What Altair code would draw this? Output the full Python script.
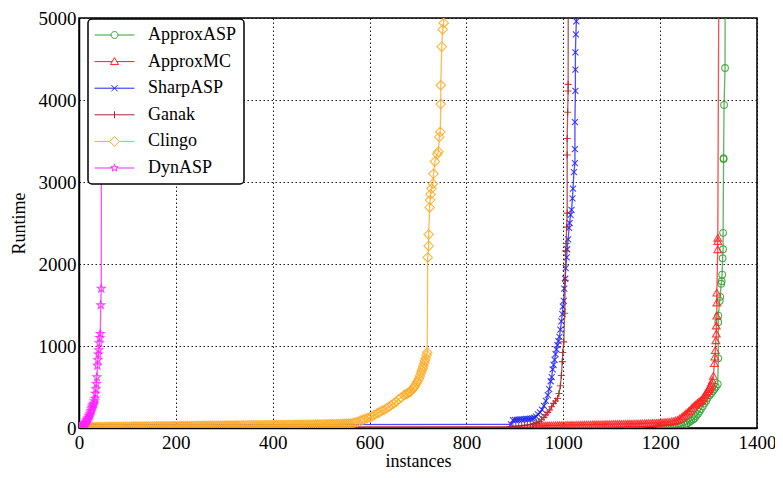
import altair as alt
import pandas as pd

series_names = ["ApproxASP", "ApproxMC", "SharpASP", "Ganak", "Clingo", "DynASP"]
series_colors = ["#33a033", "#ff2020", "#2020ff", "#a52a2a", "#ffaa22", "#ff22ff"]

# ---- data (instance index, runtime) ----
approxasp_x = [1195, 1200, 1205, 1210, 1215, 1220, 1225, 1230, 1235, 1240, 1245, 1250, 1254, 1257, 1261, 1264,
               1268, 1271, 1274, 1278, 1281, 1284, 1288, 1291, 1295, 1298, 1302, 1305, 1309, 1312, 1315, 1319,
               1320, 1320, 1320, 1323, 1324, 1326, 1327, 1328, 1329, 1330, 1330, 1331, 1331, 1332, 1334, 1335]
approxasp_y = [3, 4, 5, 6, 7, 9, 11, 13, 16, 20, 28, 38, 48, 60, 75, 90,
               105, 120, 145, 170, 200, 230, 265, 300, 330, 365, 400, 420, 450, 475, 500, 535,
               850, 1290, 1370, 1550, 1600, 1760, 1790, 1870, 2070, 2180, 2380, 3280, 3290, 3940, 4390, 8000]

approxmc_x = [0, 935,
              940, 944, 948, 952, 956, 960, 964, 968, 972, 976,
              980, 984, 988, 992, 996, 1000, 1004, 1008, 1012, 1016,
              1020, 1024, 1028, 1032, 1036, 1040, 1044, 1048, 1052, 1056,
              1060, 1064, 1068, 1072, 1076, 1080, 1084, 1088, 1092, 1096,
              1100, 1104, 1108, 1112, 1116, 1120, 1124, 1128, 1132, 1136,
              1140, 1144, 1148, 1152, 1156, 1160, 1164, 1168, 1172, 1176,
              1180, 1184, 1188, 1192, 1196, 1200, 1204, 1208, 1212, 1216,
              1220, 1224, 1228, 1232, 1236, 1240, 1244, 1247, 1250, 1253, 1256, 1259, 1262, 1265, 1268,
              1271, 1274, 1277, 1280, 1283, 1285, 1288, 1290, 1293, 1295, 1298, 1300, 1302, 1304, 1306,
              1308, 1310, 1312, 1313, 1314, 1315, 1316, 1316, 1317, 1317, 1317, 1319, 1319, 1319, 1323]
approxmc_y = [5, 12,
              25, 26, 27, 28, 29, 30, 30, 31, 31, 32,
              32, 33, 33, 34, 34, 35, 35, 36, 36, 37,
              37, 38, 38, 39, 39, 40, 40, 41, 41, 42,
              42, 43, 43, 44, 44, 45, 45, 46, 46, 47,
              47, 48, 48, 49, 49, 50, 50, 51, 51, 52,
              52, 53, 53, 54, 54, 55, 56, 57, 58, 59,
              60, 61, 62, 63, 64, 66, 68, 70, 72, 74,
              76, 80, 85, 92, 100, 115, 130, 145, 160, 175, 190, 205, 220, 240, 260,
              275, 290, 305, 320, 330, 340, 360, 380, 405, 430, 450, 475, 500, 520, 550,
              580, 635, 790, 870, 950, 1070, 1150, 1250, 1370, 1530, 1650, 2180, 2280, 2320, 8000]

sharpasp_x = [0, 892, 896, 900, 904, 908, 912, 916, 920, 924, 928, 932, 936, 940, 944, 948,
              952, 956, 960, 964, 968, 971, 974, 976, 978, 980, 982, 984, 986, 988, 990, 992,
              994, 996, 998, 999, 1001, 1002, 1004, 1005, 1007, 1008, 1010, 1012, 1013, 1015, 1017, 1019,
              1020, 1022, 1024, 1024, 1024, 1025, 1025, 1025, 1026, 1027, 1030]
sharpasp_y = [40, 45, 95, 98, 100, 102, 104, 106, 108, 110, 112, 115, 118, 125, 140, 165,
              190, 225, 270, 330, 400, 475, 570, 620, 715, 770, 830, 900, 960, 1010, 1060, 1110,
              1200, 1300, 1390, 1480, 1550, 1700, 1820, 1950, 2080, 2180, 2300, 2440, 2500, 2600, 2660, 2800,
              2920, 3120, 3230, 3400, 3730, 4110, 4370, 4580, 4800, 4960, 8000]

ganak_x = [0, 890, 896, 902, 908, 914, 920, 926, 932, 938, 944, 950, 955, 960, 964, 968,
           972, 976, 980, 984, 988, 991, 994, 996, 998, 999, 1001, 1003, 1004, 1005, 1006, 1007,
           1008, 1008, 1008, 1009, 1010, 1010, 1011]
ganak_y = [12, 16, 20, 22, 25, 28, 32, 36, 42, 50, 62, 80, 100, 130, 160, 190,
           220, 260, 300, 330, 360, 420, 515, 640, 810, 920, 1050, 1400, 1800, 2160, 2250, 2450,
           2620, 3330, 3530, 3850, 4110, 4190, 8000]

clingo_x = [0, 4, 8, 12, 16, 20, 24, 28, 32, 36, 40, 44, 48, 52, 56, 60, 64, 68, 72, 76,
            80, 84, 88, 92, 96, 100, 104, 108, 112, 116, 120, 124, 128, 132, 136, 140, 144, 148, 152, 156,
            160, 164, 168, 172, 176, 180, 184, 188, 192, 196, 200, 204, 208, 212, 216, 220, 224, 228, 232, 236,
            240, 244, 248, 252, 256, 260, 264, 268, 272, 276, 280, 284, 288, 292, 296, 300, 304, 308, 312, 316,
            320, 324, 328, 332, 336, 340, 344, 348, 352, 356, 360, 364, 368, 372, 376, 380, 384, 388, 392, 396,
            400, 404, 408, 412, 416, 420, 424, 428, 432, 436, 440, 444, 448, 452, 456, 460, 464, 468, 472, 476,
            480, 484, 488, 492, 496, 500, 504, 508, 512, 516, 520, 524, 528, 532, 536, 540, 544, 548, 552, 556,
            560, 565, 570, 575, 581, 586, 590, 595, 600, 605, 610, 616, 620, 625, 630, 635, 640, 645, 650, 655,
            660, 665, 671, 675, 678, 681, 684, 687, 690, 692, 694, 697, 699, 702, 704, 706, 708, 710, 711, 713,
            714, 716, 718, 719, 720, 722, 722, 724, 725, 726, 728, 731, 732, 735, 740, 742, 744, 746, 747, 747,
            749, 751, 753, 755]
clingo_y = [10, 10, 10, 10, 11, 11, 11, 11, 12, 12, 12, 12, 13, 13, 13, 13, 14, 14, 14, 14,
            15, 15, 15, 15, 16, 16, 16, 16, 17, 17, 17, 17, 18, 18, 18, 18, 19, 19, 19, 19,
            20, 20, 20, 20, 21, 21, 21, 21, 22, 22, 22, 22, 23, 23, 23, 23, 24, 24, 24, 24,
            25, 25, 25, 25, 26, 26, 26, 26, 27, 27, 27, 27, 28, 28, 28, 28, 29, 29, 29, 29,
            30, 30, 30, 30, 31, 31, 31, 31, 32, 32, 32, 32, 33, 33, 33, 33, 34, 34, 34, 34,
            35, 35, 35, 35, 36, 36, 36, 36, 37, 37, 37, 37, 38, 38, 38, 38, 39, 39, 39, 39,
            40, 40, 41, 41, 42, 42, 43, 43, 44, 44, 45, 45, 46, 47, 48, 49, 50, 51, 52, 53,
            55, 60, 66, 75, 90, 100, 110, 120, 130, 140, 160, 180, 190, 210, 220, 240, 260, 280, 300, 320,
            350, 370, 400, 410, 420, 430, 440, 460, 480, 500, 515, 545, 570, 600, 635, 670, 700, 730, 755, 790,
            820, 850, 890, 920, 2080, 2220, 2360, 2690, 2780, 2850, 2920, 2980, 3100, 3250, 3340, 3370, 3550,
            3610, 3950, 4180,
            4650, 4860, 4940, 8000]

dynasp_x = [1, 2, 3, 4, 5, 6, 7, 8, 9, 10, 11, 12, 13, 14, 15, 16, 17, 18, 19, 20,
            21, 22, 23, 24, 25, 26, 27, 28, 29, 30, 31, 32, 33, 34, 35, 36, 37, 38, 39, 40,
            41, 42, 43, 44, 45, 46, 47]
dynasp_y = [2, 4, 6, 9, 12, 15, 18, 22, 26, 30, 40, 50, 60, 70, 80, 90, 100, 110, 120, 130,
            145, 155, 170, 190, 210, 230, 250, 265, 280, 290, 300, 330, 360, 420, 475, 540, 620, 760, 830, 900,
            950, 1035, 1100, 1150, 1500, 1700, 8000]

x_ticks = [0, 200, 400, 600, 800, 1000, 1200, 1400]
y_ticks = [0, 1000, 2000, 3000, 4000, 5000]

series_data = [(approxasp_x, approxasp_y), (approxmc_x, approxmc_y), (sharpasp_x, sharpasp_y),
               (ganak_x, ganak_y), (clingo_x, clingo_y), (dynasp_x, dynasp_y)]
for sx, sy in series_data:
    assert len(sx) == len(sy), (len(sx), len(sy))

FONT = "Liberation Serif"

# marker shapes (unit paths) and sizes
STAR = ("M0,-1L0.235,-0.324L0.951,-0.309L0.380,0.124L0.588,0.809L0,0.4L-0.588,0.809"
        "L-0.380,0.124L-0.951,-0.309L-0.235,-0.324Z")
marker_shapes = ["circle", "triangle-up", "M-1,-1L1,1M-1,1L1,-1", "M-1,0L1,0M0,-1L0,1",
                 "M0,-1L1,0L0,1L-1,0Z", STAR]
marker_sizes = [45, 60, 36, 49, 90, 70]

# legend symbols: a short line with the marker in its middle
legend_paths = [
    "M-2.7,0L2,0M4,0L8.7,0M4,0A1,1,0,1,1,2,0A1,1,0,1,1,4,0Z",
    "M-2.7,0L2.35,0M3.65,0L8.7,0M3,-1.15L4.15,0.85L1.85,0.85Z",
    "M-2.7,0L8.7,0M2.1,-0.9L3.9,0.9M2.1,0.9L3.9,-0.9",
    "M-2.7,0L8.7,0M3,-1L3,1",
    "M-2.7,0L1.6,0M4.4,0L8.7,0M3,-1.4L4.4,0L3,1.4L1.6,0Z",
    "M-2.7,0L2.4,0M3.6,0L8.7,0M3,-1.1L3.259,-0.356L4.046,-0.34L3.418,0.136L3.647,0.89L3,0.44"
    "L2.353,0.89L2.582,0.136L1.954,-0.34L2.741,-0.356Z",
]


def color_scale():
    return alt.Scale(domain=series_names, range=series_colors)


x_enc = alt.X("instances:Q", scale=alt.Scale(domain=[0, 1400], nice=False),
              axis=alt.Axis(values=x_ticks, title="instances", format="d",
                            labelFont=FONT, titleFont=FONT, labelPadding=5, titlePadding=0))
y_enc = alt.Y("runtime:Q", scale=alt.Scale(domain=[0, 5000], nice=False),
              axis=alt.Axis(values=y_ticks, title="Runtime", format="d",
                            labelFont=FONT, titleFont=FONT, labelPadding=3, titlePadding=10))

layers = []
for name, (sx, sy), shp, sz in zip(series_names, series_data, marker_shapes, marker_sizes):
    df = pd.DataFrame({"instances": sx, "runtime": sy, "series": name})
    line = alt.Chart(df).mark_line(strokeWidth=1.3, opacity=0.8, clip=True).encode(
        x=x_enc, y=y_enc,
        stroke=alt.Stroke("series:N", scale=color_scale(), legend=None),
    )
    points = alt.Chart(df).mark_point(shape=shp, size=sz, filled=False,
                                      strokeWidth=1.1, opacity=0.85, clip=True).encode(
        x=x_enc, y=y_enc,
        stroke=alt.Stroke("series:N", scale=color_scale(), legend=None),
    )
    layers += [line, points]

legend_df = pd.DataFrame({"series": series_names})
legend_layer = alt.Chart(legend_df).mark_point(size=49, fill="white", strokeWidth=1, opacity=0).encode(
    stroke=alt.Stroke("series:N", scale=color_scale(), legend=alt.Legend(title=None)),
    shape=alt.Shape("series:N", scale=alt.Scale(domain=series_names, range=legend_paths),
                    legend=alt.Legend(title=None)),
)
layers.append(legend_layer)

chart = alt.layer(*layers).resolve_scale(
    stroke="independent", shape="independent"
).properties(
    width=678, height=410,
    autosize=alt.AutoSizeParams(type="none"),
    padding={"left": 71, "top": 10, "right": 18, "bottom": 42},
).configure_view(
    stroke="black", strokeWidth=1.5
).configure_axis(
    grid=True, gridColor="black", gridDash=[1.5, 2.5], gridWidth=1, gridOpacity=0.9,
    domainColor="black", domainWidth=1.5, ticks=False, labelFlush=False,
    labelFont=FONT, labelFontSize=19, labelColor="black",
    titleFont=FONT, titleFontSize=18, titleFontWeight="normal", titleColor="black",
).configure_legend(
    orient="none", legendX=9, legendY=1, padding=7, fillColor="white", strokeColor="black",
    strokeWidth=1.5, cornerRadius=4, labelFont=FONT, labelFontSize=18,
    labelColor="black", labelOffset=35, rowPadding=8.6, symbolSize=49, symbolStrokeWidth=1,
    symbolFillColor="white", symbolOpacity=1,
)

chart.save("out.html", embed_options={"renderer": "svg", "actions": False})
